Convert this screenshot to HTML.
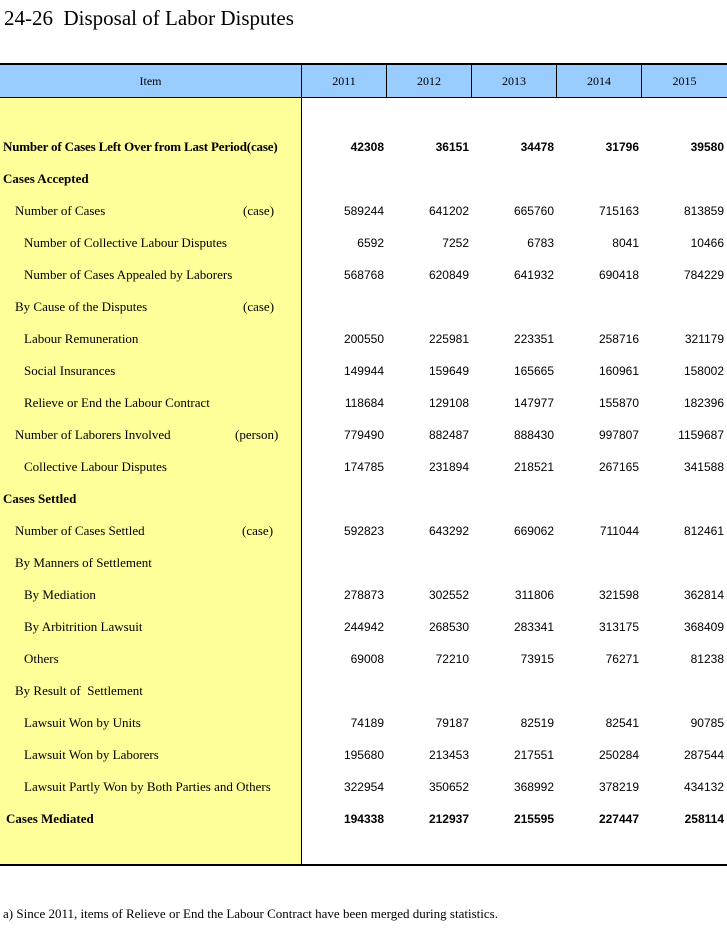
<!DOCTYPE html>
<html><head><meta charset="utf-8">
<style>
html,body{margin:0;padding:0;background:#fff;}
body{width:727px;height:931px;position:relative;overflow:hidden;}
.t{position:absolute;white-space:nowrap;}
.serif{font-family:"Liberation Serif",serif;color:#000;}
.sans{font-family:"Liberation Sans",sans-serif;color:#000;}
.lab{font-size:13px;line-height:32px;height:32px;}
.num{font-size:12px;line-height:32px;height:32px;text-align:right;width:80px;}
.b{font-weight:bold;}
.rows{position:absolute;left:0;top:1px;width:727px;height:931px;}
</style></head><body>
<div class="t serif" style="left:4px;top:4px;font-size:21px;line-height:28px;">24-26&nbsp; Disposal of Labor Disputes</div>

<!-- header band -->
<div style="position:absolute;left:0;top:63px;width:727px;height:2px;background:#000"></div>
<div style="position:absolute;left:0;top:65px;width:727px;height:32px;background:#99CCFF"></div>
<div style="position:absolute;left:0;top:97px;width:727px;height:1px;background:#000"></div>
<div style="position:absolute;left:0;top:98px;width:301px;height:766px;background:#FFFF99"></div>
<div style="position:absolute;left:301px;top:65px;width:1px;height:799px;background:#000"></div>
<div style="position:absolute;left:386px;top:65px;width:1px;height:32px;background:#000"></div>
<div style="position:absolute;left:471px;top:65px;width:1px;height:32px;background:#000"></div>
<div style="position:absolute;left:556px;top:65px;width:1px;height:32px;background:#000"></div>
<div style="position:absolute;left:641px;top:65px;width:1px;height:32px;background:#000"></div>
<div style="position:absolute;left:0;top:864px;width:727px;height:2px;background:#000"></div>

<div class="t serif" style="left:0;width:301px;text-align:center;top:65px;font-size:12px;line-height:33px;">Item</div>
<div class="t serif" style="left:302px;width:84px;text-align:center;top:65px;font-size:12px;line-height:33px;">2011</div>
<div class="t serif" style="left:387px;width:84px;text-align:center;top:65px;font-size:12px;line-height:33px;">2012</div>
<div class="t serif" style="left:472px;width:84px;text-align:center;top:65px;font-size:12px;line-height:33px;">2013</div>
<div class="t serif" style="left:557px;width:84px;text-align:center;top:65px;font-size:12px;line-height:33px;">2014</div>
<div class="t serif" style="left:642px;width:85px;text-align:center;top:65px;font-size:12px;line-height:33px;">2015</div>

<div class="rows">
<!-- labels -->
<div class="t serif lab b" style="left:3px;top:130px;letter-spacing:-0.17px;">Number of Cases Left Over from Last Period(case)</div>
<div class="t serif lab b" style="left:3px;top:162px;">Cases Accepted</div>
<div class="t serif lab" style="left:15px;top:194px;">Number of Cases</div>
<div class="t serif lab" style="left:243px;top:194px;">(case)</div>
<div class="t serif lab" style="left:24px;top:226px;">Number of Collective Labour Disputes</div>
<div class="t serif lab" style="left:24px;top:258px;">Number of Cases Appealed by Laborers</div>
<div class="t serif lab" style="left:15px;top:290px;">By Cause of the Disputes</div>
<div class="t serif lab" style="left:243px;top:290px;">(case)</div>
<div class="t serif lab" style="left:24px;top:322px;">Labour Remuneration</div>
<div class="t serif lab" style="left:24px;top:354px;">Social Insurances</div>
<div class="t serif lab" style="left:24px;top:386px;">Relieve or End the Labour Contract</div>
<div class="t serif lab" style="left:15px;top:418px;">Number of Laborers Involved</div>
<div class="t serif lab" style="left:235px;top:418px;">(person)</div>
<div class="t serif lab" style="left:24px;top:450px;">Collective Labour Disputes</div>
<div class="t serif lab b" style="left:3px;top:482px;">Cases Settled</div>
<div class="t serif lab" style="left:15px;top:514px;">Number of Cases Settled</div>
<div class="t serif lab" style="left:242px;top:514px;">(case)</div>
<div class="t serif lab" style="left:15px;top:546px;">By Manners of Settlement</div>
<div class="t serif lab" style="left:24px;top:578px;">By Mediation</div>
<div class="t serif lab" style="left:24px;top:610px;">By Arbitrition Lawsuit</div>
<div class="t serif lab" style="left:24px;top:642px;">Others</div>
<div class="t serif lab" style="left:15px;top:674px;">By Result of&nbsp; Settlement</div>
<div class="t serif lab" style="left:24px;top:706px;">Lawsuit Won by Units</div>
<div class="t serif lab" style="left:24px;top:738px;">Lawsuit Won by Laborers</div>
<div class="t serif lab" style="left:24px;top:770px;">Lawsuit Partly Won by Both Parties and Others</div>
<div class="t serif lab b" style="left:6px;top:802px;">Cases Mediated</div>

<!-- numbers -->
<div class="t sans num b" style="left:304px;top:130px;">42308</div>
<div class="t sans num b" style="left:389px;top:130px;">36151</div>
<div class="t sans num b" style="left:474px;top:130px;">34478</div>
<div class="t sans num b" style="left:559px;top:130px;">31796</div>
<div class="t sans num b" style="left:644px;top:130px;">39580</div>

<div class="t sans num" style="left:304px;top:194px;">589244</div>
<div class="t sans num" style="left:389px;top:194px;">641202</div>
<div class="t sans num" style="left:474px;top:194px;">665760</div>
<div class="t sans num" style="left:559px;top:194px;">715163</div>
<div class="t sans num" style="left:644px;top:194px;">813859</div>

<div class="t sans num" style="left:304px;top:226px;">6592</div>
<div class="t sans num" style="left:389px;top:226px;">7252</div>
<div class="t sans num" style="left:474px;top:226px;">6783</div>
<div class="t sans num" style="left:559px;top:226px;">8041</div>
<div class="t sans num" style="left:644px;top:226px;">10466</div>

<div class="t sans num" style="left:304px;top:258px;">568768</div>
<div class="t sans num" style="left:389px;top:258px;">620849</div>
<div class="t sans num" style="left:474px;top:258px;">641932</div>
<div class="t sans num" style="left:559px;top:258px;">690418</div>
<div class="t sans num" style="left:644px;top:258px;">784229</div>

<div class="t sans num" style="left:304px;top:322px;">200550</div>
<div class="t sans num" style="left:389px;top:322px;">225981</div>
<div class="t sans num" style="left:474px;top:322px;">223351</div>
<div class="t sans num" style="left:559px;top:322px;">258716</div>
<div class="t sans num" style="left:644px;top:322px;">321179</div>

<div class="t sans num" style="left:304px;top:354px;">149944</div>
<div class="t sans num" style="left:389px;top:354px;">159649</div>
<div class="t sans num" style="left:474px;top:354px;">165665</div>
<div class="t sans num" style="left:559px;top:354px;">160961</div>
<div class="t sans num" style="left:644px;top:354px;">158002</div>

<div class="t sans num" style="left:304px;top:386px;">118684</div>
<div class="t sans num" style="left:389px;top:386px;">129108</div>
<div class="t sans num" style="left:474px;top:386px;">147977</div>
<div class="t sans num" style="left:559px;top:386px;">155870</div>
<div class="t sans num" style="left:644px;top:386px;">182396</div>

<div class="t sans num" style="left:304px;top:418px;">779490</div>
<div class="t sans num" style="left:389px;top:418px;">882487</div>
<div class="t sans num" style="left:474px;top:418px;">888430</div>
<div class="t sans num" style="left:559px;top:418px;">997807</div>
<div class="t sans num" style="left:644px;top:418px;">1159687</div>

<div class="t sans num" style="left:304px;top:450px;">174785</div>
<div class="t sans num" style="left:389px;top:450px;">231894</div>
<div class="t sans num" style="left:474px;top:450px;">218521</div>
<div class="t sans num" style="left:559px;top:450px;">267165</div>
<div class="t sans num" style="left:644px;top:450px;">341588</div>

<div class="t sans num" style="left:304px;top:514px;">592823</div>
<div class="t sans num" style="left:389px;top:514px;">643292</div>
<div class="t sans num" style="left:474px;top:514px;">669062</div>
<div class="t sans num" style="left:559px;top:514px;">711044</div>
<div class="t sans num" style="left:644px;top:514px;">812461</div>

<div class="t sans num" style="left:304px;top:578px;">278873</div>
<div class="t sans num" style="left:389px;top:578px;">302552</div>
<div class="t sans num" style="left:474px;top:578px;">311806</div>
<div class="t sans num" style="left:559px;top:578px;">321598</div>
<div class="t sans num" style="left:644px;top:578px;">362814</div>

<div class="t sans num" style="left:304px;top:610px;">244942</div>
<div class="t sans num" style="left:389px;top:610px;">268530</div>
<div class="t sans num" style="left:474px;top:610px;">283341</div>
<div class="t sans num" style="left:559px;top:610px;">313175</div>
<div class="t sans num" style="left:644px;top:610px;">368409</div>

<div class="t sans num" style="left:304px;top:642px;">69008</div>
<div class="t sans num" style="left:389px;top:642px;">72210</div>
<div class="t sans num" style="left:474px;top:642px;">73915</div>
<div class="t sans num" style="left:559px;top:642px;">76271</div>
<div class="t sans num" style="left:644px;top:642px;">81238</div>

<div class="t sans num" style="left:304px;top:706px;">74189</div>
<div class="t sans num" style="left:389px;top:706px;">79187</div>
<div class="t sans num" style="left:474px;top:706px;">82519</div>
<div class="t sans num" style="left:559px;top:706px;">82541</div>
<div class="t sans num" style="left:644px;top:706px;">90785</div>

<div class="t sans num" style="left:304px;top:738px;">195680</div>
<div class="t sans num" style="left:389px;top:738px;">213453</div>
<div class="t sans num" style="left:474px;top:738px;">217551</div>
<div class="t sans num" style="left:559px;top:738px;">250284</div>
<div class="t sans num" style="left:644px;top:738px;">287544</div>

<div class="t sans num" style="left:304px;top:770px;">322954</div>
<div class="t sans num" style="left:389px;top:770px;">350652</div>
<div class="t sans num" style="left:474px;top:770px;">368992</div>
<div class="t sans num" style="left:559px;top:770px;">378219</div>
<div class="t sans num" style="left:644px;top:770px;">434132</div>

<div class="t sans num b" style="left:304px;top:802px;">194338</div>
<div class="t sans num b" style="left:389px;top:802px;">212937</div>
<div class="t sans num b" style="left:474px;top:802px;">215595</div>
<div class="t sans num b" style="left:559px;top:802px;">227447</div>
<div class="t sans num b" style="left:644px;top:802px;">258114</div>
</div>

<div class="t serif" style="left:3px;top:905px;font-size:13px;line-height:18px;">a) Since 2011, items of Relieve or End the Labour Contract have been merged during statistics.</div>
</body></html>
